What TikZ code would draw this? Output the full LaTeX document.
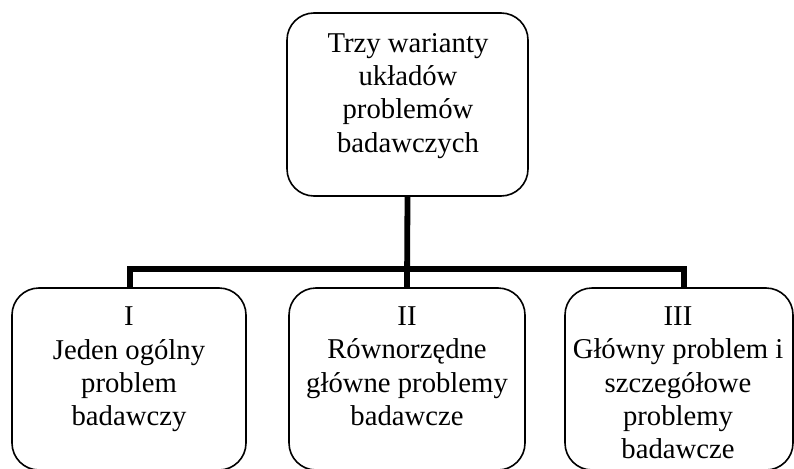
\documentclass[tikz,border=0pt]{standalone}
\usepackage{fontspec}
\setmainfont{Liberation Serif}
\begin{document}
\begin{tikzpicture}[x=1pt,y=-1pt,
  box/.style={draw=black, line width=1.6pt, rounded corners=27pt, fill=white, inner sep=0pt},
  lbl/.style={align=center, inner sep=0pt, anchor=north, font=\fontsize{28.7}{33.3}\selectfont},
  conn/.style={draw=black, line width=5.8pt, line join=miter}]
\useasboundingbox (0,0) rectangle (794,468);
% boxes
\node[box, minimum width=241pt, minimum height=183pt] (top) at (407.5,104.5) {};
\node[box, minimum width=234pt, minimum height=182pt] (b1) at (129,379) {};
\node[box, minimum width=236pt, minimum height=182pt] (b2) at (407,379) {};
\node[box, minimum width=228pt, minimum height=182pt] (b3) at (679,379) {};
% connectors
\coordinate (j) at (407,269);
\draw[conn] (top.south) -- (b2.north);
\draw[conn] (b1.north -| 130,0) |- (j) -| (684,288);
% texts
\node[lbl] (t0) at (408,33) {Trzy warianty\\układów\\problemów\\badawczych};
\node[lbl] (t1) at (129,307) {I\\Jeden ogólny\\problem\\badawczy};
\node[lbl] (t2) at (407,306.5) {II\\Równorzędne\\główne problemy\\badawcze};
\node[lbl] (t3) at (678,306.5) {III\\Główny problem i\\szczegółowe\\problemy\\badawcze};
\end{tikzpicture}
\end{document}
